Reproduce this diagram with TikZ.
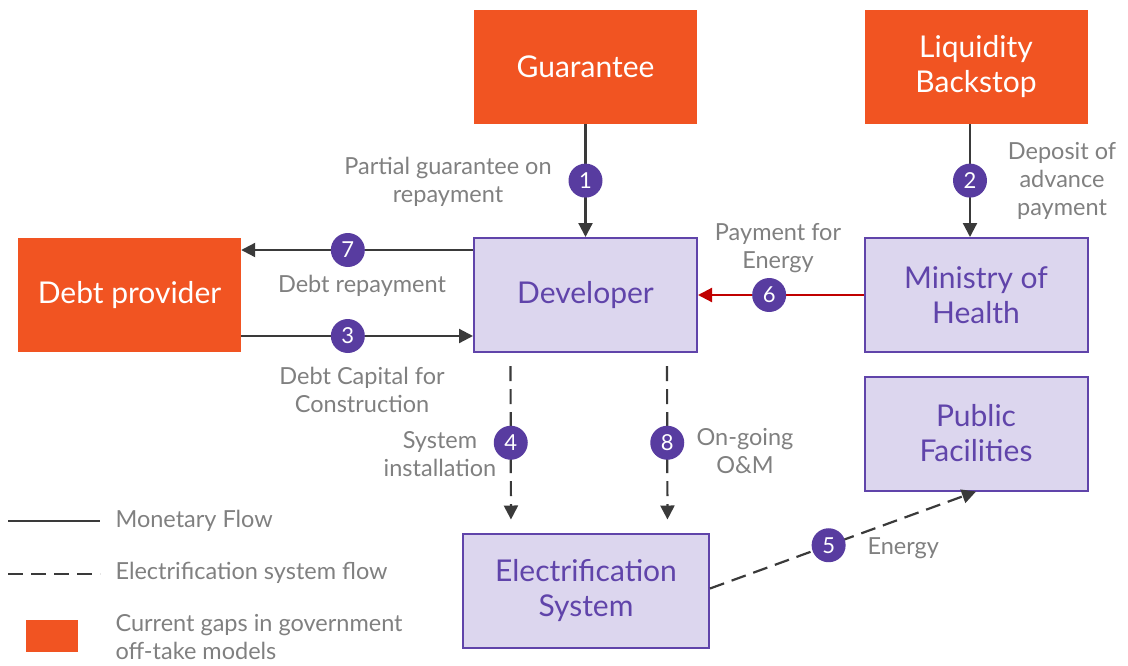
\documentclass[tikz,border=0pt]{standalone}
\usepackage{fontspec}
\setmainfont{Lato}
\usetikzlibrary{arrows.meta,positioning}
\definecolor{gaporange}{RGB}{241,84,34}
\definecolor{lav}{RGB}{220,214,238}
\definecolor{purp}{RGB}{96,68,170}
\definecolor{numpurp}{RGB}{88,60,160}
\definecolor{txtgray}{RGB}{128,128,128}
\definecolor{flowgray}{RGB}{58,58,58}
\definecolor{payred}{RGB}{192,0,0}

\begin{document}
\begin{tikzpicture}[x=1pt,y=-1pt,
  gap/.style={fill=gaporange,text=white,minimum width=223pt,minimum height=114pt,align=center,font=\fontsize{30}{35}\selectfont},
  party/.style={gap,fill=lav,draw=purp,line width=2pt,text=purp},
  num/.style={circle,fill=numpurp,text=white,minimum size=34pt,inner sep=0pt,font=\fontsize{22}{22}\selectfont},
  lbl/.style={text=txtgray,align=center,font=\fontsize{23.5}{28}\selectfont},
  money/.style={draw=flowgray,line width=2.2pt,-{Triangle[length=14pt,width=14pt]}},
  elec/.style={money,dash pattern=on 15pt off 8pt}]
\useasboundingbox (0,0) rectangle (1128,665);
% boxes
\node[gap] (guar) at (585.5,67) {Guarantee};
\node[gap] (liq) at (976,67) {Liquidity\\Backstop};
\node[gap] (debt) at (129.5,295) {Debt provider};
\node[party] (dev) at (585.5,295) {Developer};
\node[party] (moh) at (976,295) {Ministry of\\Health};
\node[party] (pub) at (976,433.5) {Public\\Facilities};
\node[party,minimum width=246pt] (elsys) at (586,590.5) {Electrification\\System};
% flows
\draw[money] (guar) -- node[num] (n1) {1} (dev);
\draw[money] ([xshift=-6pt]liq.south) -- node[num] (n2) {2} ([xshift=-6pt]moh.north);
\draw[money] ([yshift=45pt]dev.west) -- node[num,pos=.54] (n7) {7} ([yshift=45pt]debt.east);
\draw[money] ([yshift=-41pt]debt.east) -- node[num,pos=.46] (n3) {3} ([yshift=-41pt]dev.west);
\draw[money,draw=payred] (moh) -- node[num,pos=.57] (n6) {6} (dev);
\draw[elec,shorten <=13pt,shorten >=13pt] ([xshift=-75pt]dev.south) -- node[num] (n4) {4} ([xshift=-75pt]elsys.north);
\draw[elec,shorten <=13pt,shorten >=13pt] ([xshift=81.5pt]dev.south) -- node[num] (n8) {8} ([xshift=81.5pt]elsys.north);
\draw[elec] ([yshift=2pt]elsys.east) -- node[num,pos=.446] (n5) {5} (pub.south);
% labels
\node[lbl] (l1) at (448,182) {Partial guarantee on\\repayment};
\node[lbl] (l2) at (1062,181) {Deposit of\\advance\\payment};
\node[lbl] (l6) at (778,248) {Payment for\\Energy};
\node[lbl] (l7) at (362,286) {Debt repayment};
\node[lbl] (l3) at (362,390) {Debt Capital for\\Construction};
\node[lbl] (l4) at (440,454) {System\\installation};
\node[lbl] (l8) at (745,451) {On-going\\O\&M};
\node[lbl,anchor=west] (l5) at (864,548) {Energy};
% legend
\draw[flowgray,line width=2pt] (8,521) -- (100,521);
\draw[flowgray,line width=2pt,dash pattern=on 15pt off 8pt] (8,574) -- (100,574);
\fill[gaporange] (26,620) rectangle (78,652);
\node[lbl,anchor=west] (lg1) at (112,521) {Monetary Flow};
\node[lbl,anchor=west] (lg2) at (112,573) {Electrification system flow};
\node[lbl,anchor=west,align=left] (lg3) at (112,637) {Current gaps in government\\off-take models};
\end{tikzpicture}
\end{document}
